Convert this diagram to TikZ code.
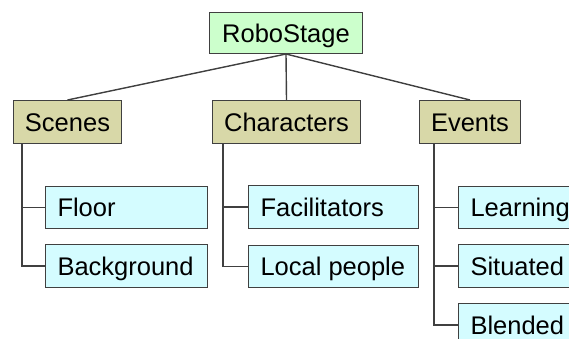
\documentclass[tikz,border=0pt]{standalone}
\usepackage{fontspec}
\setmainfont{Liberation Sans}
\usetikzlibrary{calc}
\definecolor{rootfill}{HTML}{CCFFCC}
\definecolor{catfill}{HTML}{D8D8A8}
\definecolor{leaffill}{HTML}{D4FCFF}
\definecolor{edgecol}{HTML}{404040}
\begin{document}
\begin{tikzpicture}[x=1pt,y=-1pt,
  box/.style={draw=edgecol, line width=1pt, anchor=north west, inner sep=0pt,
    font=\fontsize{25.5}{28}\selectfont, text height=18.4pt, text depth=0pt},
  rootbox/.style={box, fill=rootfill},
  catbox/.style={box, fill=catfill},
  leafbox/.style={box, fill=leaffill, inner xsep=12pt}]
\tikzset{conn/.style={draw=edgecol, line width=1.4pt}}
\useasboundingbox (0,0) rectangle (569,339);
\clip (0,0) rectangle (569,339);
\node[rootbox, minimum width=153pt, minimum height=41pt] (root) at (209,12) {RoboStage};
\node[catbox, minimum width=108pt, minimum height=43pt] (scenes) at (13,100) {Scenes};
\node[catbox, minimum width=148pt, minimum height=43pt] (chars) at (212,100) {Characters};
\node[catbox, minimum width=101pt, minimum height=43pt] (events) at (419,100) {Events};
\node[leafbox, minimum height=42pt] (floor) at (45,186) {\makebox[138pt][l]{Floor}};
\node[leafbox, minimum height=43pt] (bg) at (45,244) {\makebox[138pt][l]{Background}};
\node[leafbox, minimum height=43pt] (fac) at (248,185) {\makebox[146pt][l]{Facilitators}};
\node[leafbox, minimum height=42pt] (local) at (248,245) {\makebox[146pt][l]{Local people}};
\node[leafbox, minimum height=42pt] (learn) at (458,186) {\makebox[146pt][l]{Learning}};
\node[leafbox, minimum height=43pt] (sit) at (458,244) {\makebox[146pt][l]{Situated}};
\node[leafbox, minimum height=43pt] (blend) at (458,303) {\makebox[146pt][l]{Blended}};
\draw[conn] (root.south) -- (scenes.north);
\draw[conn] (root.south) -- (chars.north);
\draw[conn] (root.south) -- (events.north);
\draw[conn] ([xshift=9pt]scenes.south west) |- (floor.west);
\draw[conn] ([xshift=9pt]scenes.south west) |- (bg.west);
\draw[conn] ([xshift=11pt]chars.south west) |- (fac.west);
\draw[conn] ([xshift=11pt]chars.south west) |- (local.west);
\draw[conn] ([xshift=15pt]events.south west) |- (learn.west);
\draw[conn] ([xshift=15pt]events.south west) |- (sit.west);
\draw[conn] ([xshift=15pt]events.south west) |- (blend.west);
\end{tikzpicture}
\end{document}
